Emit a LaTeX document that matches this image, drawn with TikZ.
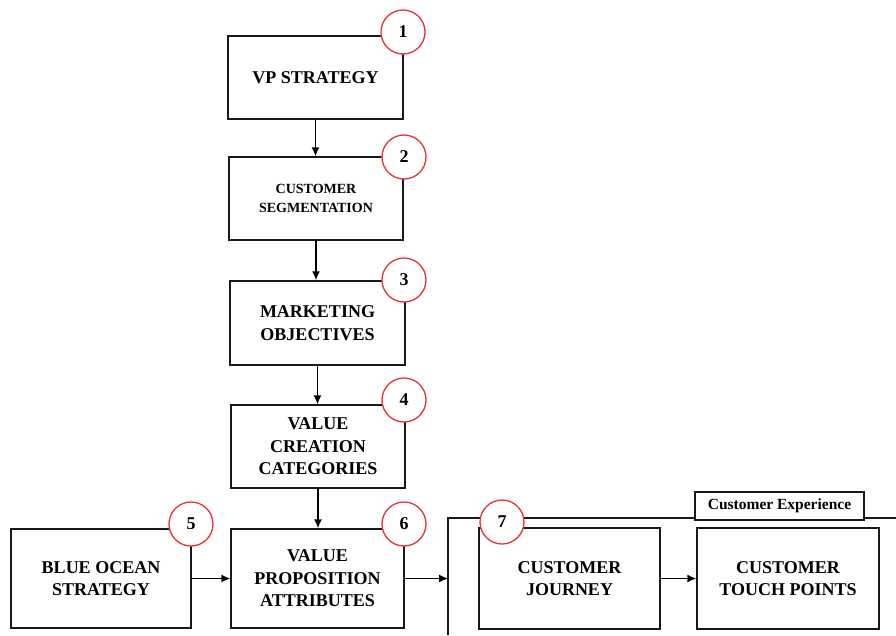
\documentclass[tikz,border=0pt]{standalone}
\usepackage{fontspec}
\setmainfont{Liberation Serif}
\usetikzlibrary{arrows.meta}
\definecolor{numred}{RGB}{235,50,50}
\begin{document}
\begin{tikzpicture}[x=1pt,y=-1pt,
  box/.style={draw=black!90,line width=1.4pt,fill=white,align=center,
    font=\fontsize{18}{22.5}\selectfont\bfseries,inner sep=0pt},
  badge/.style={circle,draw=numred,line width=1.3pt,fill=white,minimum size=44pt,
    inner sep=0pt,font=\fontsize{18}{20}\selectfont\bfseries},
  flow/.style={draw=black,line width=1.4pt,-{Latex[length=9pt,width=8pt]}}]
\useasboundingbox (0,0) rectangle (896,635);

% main column
\node[box,minimum width=175pt,minimum height=83pt] (b1) at (315.5,77.5) {VP STRATEGY};
\node[box,minimum width=174pt,minimum height=83pt,
  font=\fontsize{14}{19.5}\selectfont\bfseries] (b2) at (316,198.5) {CUSTOMER\\SEGMENTATION};
\node[box,minimum width=175pt,minimum height=84pt] (b3) at (317.5,323) {MARKETING\\OBJECTIVES};
\node[box,minimum width=174pt,minimum height=83pt] (b4) at (318,446.5) {VALUE\\CREATION\\CATEGORIES};
\node[box,minimum width=180pt,minimum height=99pt] (b5) at (101,578.5) {BLUE OCEAN\\STRATEGY};
\node[box,minimum width=173pt,minimum height=99pt] (b6) at (317.5,578.5) {VALUE\\PROPOSITION\\ATTRIBUTES};

% customer experience frame
\draw[draw=black!90,line width=1.4pt] (448,635) -- (448,518) -- (896,518);
\coordinate (fin) at (448,578.5);
\node[box,minimum width=169pt,minimum height=28pt,
  font=\fontsize{15.5}{18}\selectfont\bfseries] (ce) at (779.5,506) {Customer Experience};
\node[box,minimum width=181pt,minimum height=101pt] (b7) at (569.5,578.5) {CUSTOMER\\JOURNEY};
\node[box,minimum width=182pt,minimum height=101pt] (b8) at (788,578.5) {CUSTOMER\\TOUCH POINTS};

% connectors
\draw[flow] (b1.south) -- (b2.north -| b1.south);
\draw[flow] (b2.south) -- (b3.north -| b2.south);
\draw[flow] (b3.south) -- (b4.north -| b3.south);
\draw[flow] (b4.south) -- (b6.north -| b4.south);
\draw[flow] (b5.east) -- (b6.west);
\draw[flow] (b6.east) -- (fin);
\draw[flow] (b7.east) -- (b8.west);

% step numbers
\node[badge] (c1) at (403,32) {1};
\node[badge] (c2) at (404,157) {2};
\node[badge] (c3) at (404,280) {3};
\node[badge] (c4) at (404,400) {4};
\node[badge] (c5) at (191,524) {5};
\node[badge] (c6) at (404,524) {6};
\node[badge] (c7) at (502,522) {7};
\end{tikzpicture}
\end{document}
